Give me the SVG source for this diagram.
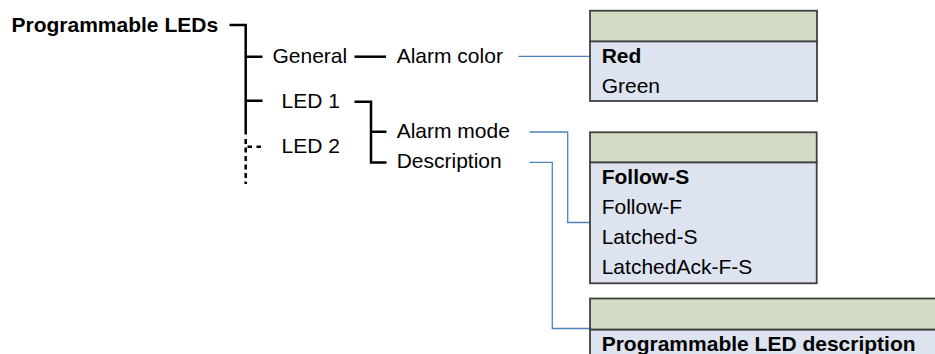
<svg xmlns="http://www.w3.org/2000/svg" width="935" height="354" viewBox="0 0 935 354">
<style>
text{font-family:"Liberation Sans",Arial,sans-serif;font-size:21px;fill:#000}
.b{font-weight:bold}
.tree{stroke:#000;stroke-width:2.5;fill:none}
.dash{stroke-dasharray:5 3.5}
.blue{stroke:#4f81bd;stroke-width:1.3;fill:none}
.hd{fill:#d2dbc3;stroke:#404040;stroke-width:1.8}
.bd{fill:#dde4ef;stroke:#404040;stroke-width:1.8}
</style>
<rect width="935" height="354" fill="#fff"/>
<g id="connectors">
<path class="tree" d="M229.5 25H245.7V134.5"/>
<path class="tree dash" d="M245.7 139V184"/>
<path class="tree" d="M245.7 56.7H262.5M245.7 100.7H262.5"/>
<path class="tree" style="stroke-dasharray:4.5 4.5" d="M247.5 146.7H263"/>
<path class="tree" d="M354.5 56.7H386"/>
<path class="tree" d="M354.5 101.7H371V162.5H386.5M371 131.7H386.5"/>
<path class="blue" d="M518.5 56.3H590"/>
<path class="blue" d="M529.5 132H567.7V222.5H590"/>
<path class="blue" d="M529.5 162.3H552.3V328.5H590"/>
</g>
<g id="root"><text class="b" x="11.5" y="32.3">Programmable LEDs</text></g>
<g id="general"><text x="272.5" y="63.3">General</text></g>
<g id="led1"><text x="281.5" y="108.3">LED 1</text></g>
<g id="led2"><text x="281.5" y="153.3">LED 2</text></g>
<g id="alarm-color"><text x="396.7" y="63.3">Alarm color</text></g>
<g id="alarm-mode"><text x="396.7" y="138.3">Alarm mode</text></g>
<g id="description"><text x="396.7" y="168.3">Description</text></g>
<g id="box-color">
<rect class="bd" x="590" y="41.3" width="227" height="59.7"/>
<rect class="hd" x="590" y="10.7" width="227" height="30.6"/>
<text class="b" x="601.7" y="63.3">Red</text>
<text x="601.7" y="93.3">Green</text>
</g>
<g id="box-mode">
<rect class="bd" x="590" y="162.3" width="226.7" height="121"/>
<rect class="hd" x="590" y="132.3" width="226.7" height="30"/>
<text class="b" x="601.7" y="184.3">Follow-S</text>
<text x="601.7" y="214.3">Follow-F</text>
<text x="601.7" y="244.2">Latched-S</text>
<text x="601.7" y="274">LatchedAck-F-S</text>
</g>
<g id="box-description">
<rect class="bd" x="590" y="329.5" width="360" height="40"/>
<rect class="hd" x="590" y="298.5" width="360" height="31"/>
<text class="b" x="601.7" y="350.5">Programmable LED description</text>
</g>
</svg>
